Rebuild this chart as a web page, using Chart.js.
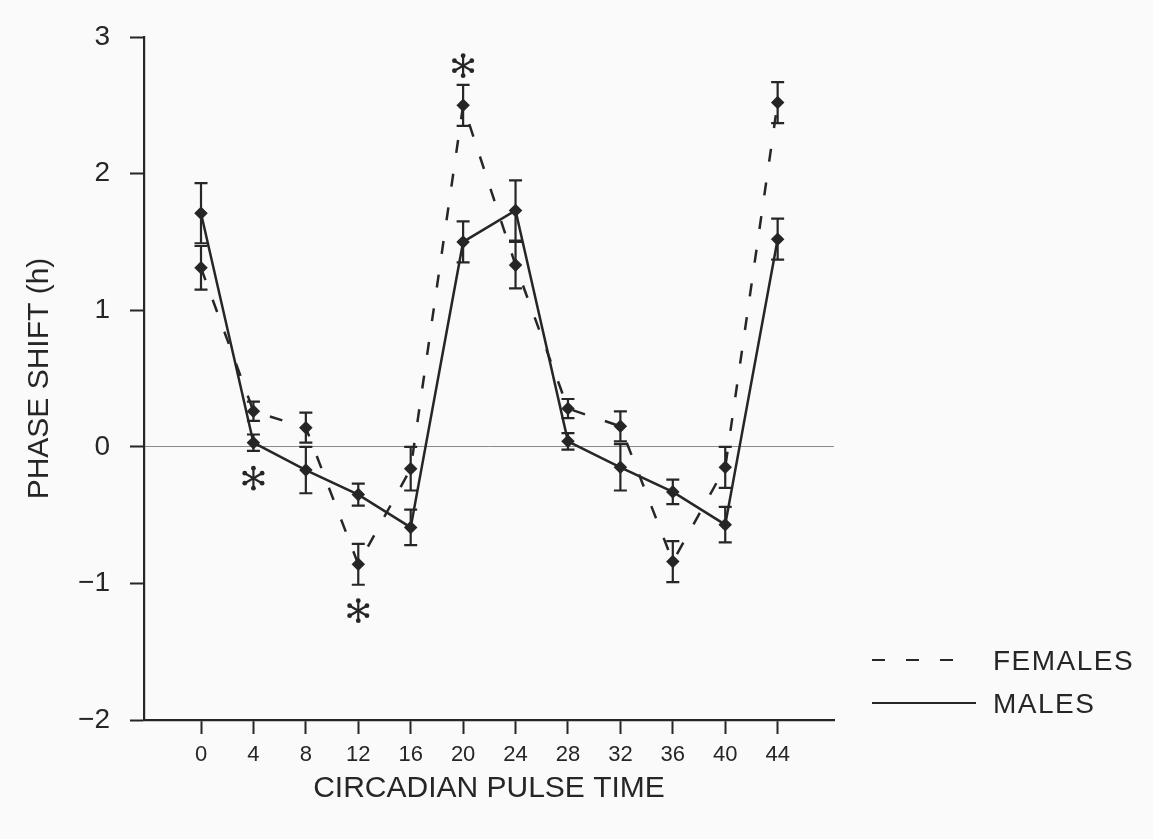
<!DOCTYPE html>
<html>
<head>
<meta charset="utf-8">
<script src="https://cdn.jsdelivr.net/npm/chart.js@4"></script>
<style>
  html, body { margin: 0; padding: 0; background: #fafafa; }
  #wrap { width: 1153px; height: 839px; }
</style>
</head>
<body>
<div id="wrap"><canvas id="phaseChart" width="1153" height="839"></canvas></div>
<script>
// circadian pulse times (h)
var pulseTimes = [0, 4, 8, 12, 16, 20, 24, 28, 32, 36, 40, 44];
var tickLabels = ['0', '4', '8', '12', '16', '20', '24', '28', '32', '36', '40', '44'];

// phase shift (h), mean and error
var femaleShift = [1.31, 0.26, 0.14, -0.86, -0.16, 2.50, 1.33, 0.28, 0.15, -0.84, -0.15, 2.52];
var femaleErr   = [0.16, 0.07, 0.11, 0.15, 0.16, 0.15, 0.17, 0.07, 0.11, 0.15, 0.15, 0.15];
var maleShift   = [1.71, 0.03, -0.17, -0.35, -0.59, 1.50, 1.73, 0.04, -0.15, -0.33, -0.57, 1.52];
var maleErr     = [0.22, 0.06, 0.17, 0.08, 0.13, 0.15, 0.22, 0.06, 0.17, 0.09, 0.13, 0.15];

// significance markers
var starX = [4, 12, 20];
var starY = [-0.23, -1.20, 2.79];

var ink = '#262626';
var fontFam = '"Liberation Sans", Arial, sans-serif';

function toPoints(ys) {
	return pulseTimes.map(function (t, i) { return { x: t, y: ys[i] }; });
}

// error bars with caps
var errorBars = {
	id: 'errorBars',
	afterDatasetsDraw: function (chart) {
		var ctx = chart.ctx, xs = chart.scales.x, ys = chart.scales.y;
		chart.data.datasets.forEach(function (ds) {
			ctx.save();
			ctx.strokeStyle = ink;
			ctx.lineWidth = 2.2;
			ds.data.forEach(function (p, i) {
				var x = xs.getPixelForValue(p.x);
				var t = ys.getPixelForValue(p.y + ds.err[i]);
				var b = ys.getPixelForValue(p.y - ds.err[i]);
				ctx.beginPath();
				ctx.moveTo(x, t); ctx.lineTo(x, b);
				ctx.moveTo(x - 6.5, t); ctx.lineTo(x + 6.5, t);
				ctx.moveTo(x - 6.5, b); ctx.lineTo(x + 6.5, b);
				ctx.stroke();
			});
			ctx.restore();
		});
	}
};

// asterisks
var stars = {
	id: 'stars',
	afterDatasetsDraw: function (chart) {
		var ctx = chart.ctx, xs = chart.scales.x, ys = chart.scales.y;
		ctx.save();
		ctx.strokeStyle = ink;
		ctx.fillStyle = ink;
		ctx.lineWidth = 2.2;
		starX.forEach(function (sx, i) {
			var cx = xs.getPixelForValue(sx), cy = ys.getPixelForValue(starY[i]);
			for (var k = 0; k < 6; k++) {
				var a = Math.PI / 2 + k * Math.PI / 3;
				var ex = cx + Math.cos(a) * 10, ey = cy - Math.sin(a) * 10;
				ctx.beginPath();
				ctx.moveTo(cx, cy); ctx.lineTo(ex, ey);
				ctx.stroke();
				ctx.beginPath();
				ctx.arc(ex, ey, 2.4, 0, Math.PI * 2);
				ctx.fill();
			}
		});
		ctx.restore();
	}
};

// legend at lower right
var sideLegend = {
	id: 'sideLegend',
	afterDraw: function (chart) {
		var ctx = chart.ctx;
		ctx.save();
		ctx.strokeStyle = ink;
		ctx.fillStyle = ink;
		ctx.lineWidth = 2.2;
		ctx.setLineDash([13, 21]);
		ctx.beginPath(); ctx.moveTo(872, 660); ctx.lineTo(960, 660); ctx.stroke();
		ctx.setLineDash([]);
		ctx.beginPath(); ctx.moveTo(872, 703); ctx.lineTo(976, 703); ctx.stroke();
		ctx.font = '28px ' + fontFam;
		ctx.letterSpacing = '1.5px';
		ctx.textBaseline = 'middle';
		ctx.fillText(chart.data.datasets[0].label, 993, 662);
		ctx.fillText(chart.data.datasets[1].label, 993, 705);
		ctx.restore();
	}
};

function initializePhaseChart() {
	var ctx = document.getElementById('phaseChart').getContext('2d');
	new Chart(ctx, {
		type: 'line',
		data: {
			datasets: [
				{
					label: 'FEMALES',
					data: toPoints(femaleShift),
					err: femaleErr,
					borderColor: ink,
					backgroundColor: ink,
					borderWidth: 2.5,
					borderDash: [13, 21],
					pointStyle: 'rectRot',
					pointRadius: 5,
					tension: 0
				},
				{
					label: 'MALES',
					data: toPoints(maleShift),
					err: maleErr,
					borderColor: ink,
					backgroundColor: ink,
					borderWidth: 2.5,
					pointStyle: 'rectRot',
					pointRadius: 5,
					tension: 0
				}
			]
		},
		options: {
			responsive: false,
			animation: false,
			layout: { padding: { left: 0, right: 319, top: 37, bottom: 0 } },
			plugins: {
				legend: { display: false },
				tooltip: { enabled: false }
			},
			scales: {
				x: {
					type: 'linear',
					min: -4.35,
					max: 48.3,
					afterBuildTicks: function (s) {
						s.ticks = pulseTimes.map(function (v) { return { value: v }; });
					},
					afterFit: function (s) { s.height = 119; },
					border: { color: ink, width: 2.2 },
					grid: { drawOnChartArea: false, tickLength: 14, tickColor: ink, tickWidth: 2 },
					ticks: {
						color: ink,
						padding: 8,
						maxRotation: 0,
						font: { family: fontFam, size: 22 },
						callback: function (v) { return tickLabels[pulseTimes.indexOf(v)]; }
					},
					title: {
						display: true,
						text: 'CIRCADIAN PULSE TIME',
						color: ink,
						font: { family: fontFam, size: 30 },
						padding: { top: 0, bottom: 32 }
					}
				},
				y: {
					min: -2,
					max: 3,
					afterFit: function (s) { s.width = 144; },
					border: { color: ink, width: 2.2 },
					grid: {
						color: function (c) { return c.tick && c.tick.value === 0 ? '#8a8a8a' : 'transparent'; },
						lineWidth: 1,
						tickLength: 14,
						tickColor: ink,
						tickWidth: 2
					},
					ticks: {
						stepSize: 1,
						color: ink,
						padding: 20,
						font: { family: fontFam, size: 28 },
						callback: function (v) { return String(v).replace('-', '\u2212'); }
					},
					title: {
						display: true,
						text: 'PHASE SHIFT (h)',
						color: ink,
						font: { family: fontFam, size: 30 },
						padding: { top: 22, bottom: 0 }
					}
				}
			}
		},
		plugins: [errorBars, stars, sideLegend]
	});
}

document.addEventListener('DOMContentLoaded', initializePhaseChart);
</script>
</body>
</html>
